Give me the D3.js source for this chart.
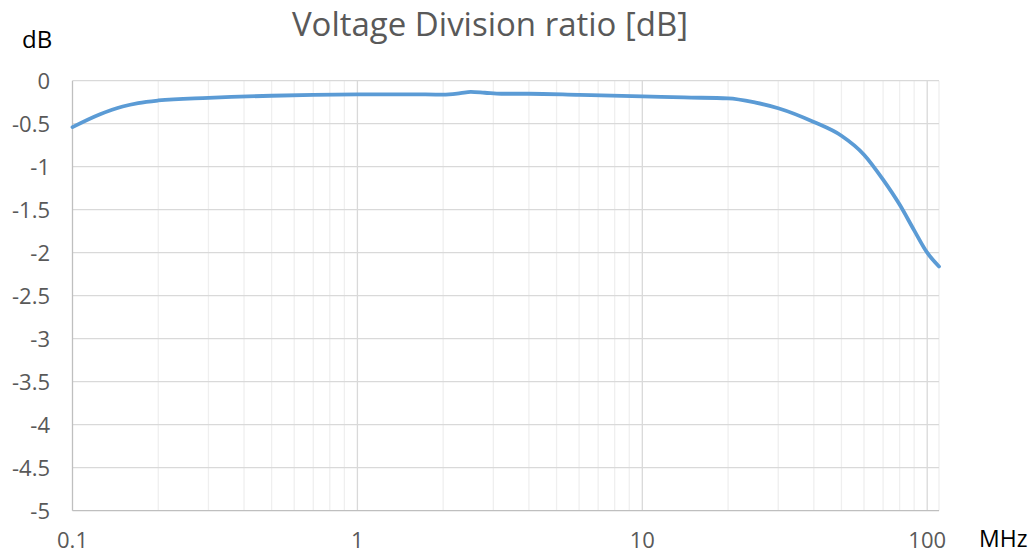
<!DOCTYPE html>
<html><head><meta charset="utf-8">
<script src="https://cdn.jsdelivr.net/npm/d3@7"></script>
<style>body{margin:0;background:#fff}svg{display:block}</style>
</head><body>
<svg id="c" width="1035" height="555"></svg>
<script>
const freqMHz = [0.1, 0.125, 0.15, 0.17, 0.2, 0.3, 0.5, 0.7, 1, 1.5, 2, 2.3, 2.5, 2.8, 3.2, 4, 6, 10, 14, 20, 25, 30, 40, 50, 60, 70, 80, 90, 100, 110];
const ratioDB = [-0.54, -0.39, -0.3, -0.26, -0.23, -0.2, -0.175, -0.165, -0.16, -0.158, -0.162, -0.145, -0.13, -0.14, -0.152, -0.152, -0.165, -0.182, -0.195, -0.205, -0.255, -0.32, -0.48, -0.64, -0.86, -1.15, -1.44, -1.74, -2.0, -2.16];
const xTickVals = [0.1, 1, 10, 100];
const xTickLabels = ["0.1", "1", "10", "100"];
const yTickVals = [0, -0.5, -1, -1.5, -2, -2.5, -3, -3.5, -4, -4.5, -5];
const yTickLabels = ["0", "-0.5", "-1", "-1.5", "-2", "-2.5", "-3", "-3.5", "-4", "-4.5", "-5"];

const svg = d3.select("#c");
const L = 72.5, R = 939, T = 80.7, B = 510.7;
const x = d3.scaleLog().domain([0.1, 110]).range([L, R]);
const y = d3.scaleLinear().domain([-5, 0]).range([B, T]);
const font = "'Open Sans', sans-serif";

// minor vertical grid
const minor = [];
[0.1, 1, 10].forEach(d => { for (let k = 2; k <= 9; k++) minor.push(d * k); });
minor.push(110);
svg.append("g").selectAll("line").data(minor).join("line")
  .attr("x1", d => x(d)).attr("x2", d => x(d)).attr("y1", T).attr("y2", B)
  .attr("stroke", "#efefef").attr("stroke-width", 1.3);
// major vertical grid
svg.append("g").selectAll("line").data([1, 10, 100]).join("line")
  .attr("x1", d => x(d)).attr("x2", d => x(d)).attr("y1", T).attr("y2", B)
  .attr("stroke", "#d9d9d9").attr("stroke-width", 1.3);
// horizontal grid
svg.append("g").selectAll("line").data(yTickVals.slice(0, -1)).join("line")
  .attr("x1", L).attr("x2", R).attr("y1", d => y(d)).attr("y2", d => y(d))
  .attr("stroke", "#d9d9d9").attr("stroke-width", 1.3);

// axes lines
svg.append("line").attr("x1", L).attr("x2", L).attr("y1", T).attr("y2", B).attr("stroke", "#bfbfbf").attr("stroke-width", 1.3);
svg.append("line").attr("x1", L).attr("x2", R).attr("y1", B).attr("y2", B).attr("stroke", "#bfbfbf").attr("stroke-width", 1.3);

// y tick labels
svg.append("g").selectAll("text").data(yTickVals).join("text")
  .attr("x", 50).attr("y", d => y(d)).attr("dy", "0.36em")
  .attr("text-anchor", "end").attr("font-family", font).attr("font-size", 22)
  .attr("fill", "#595959").text((d, i) => yTickLabels[i]);
// x tick labels
svg.append("g").selectAll("text").data(xTickVals).join("text")
  .attr("x", d => x(d)).attr("y", 548)
  .attr("text-anchor", "middle").attr("font-family", font).attr("font-size", 22)
  .attr("fill", "#595959").text((d, i) => xTickLabels[i]);

// line
const line = d3.line().x((d, i) => x(freqMHz[i])).y(d => y(d)).curve(d3.curveMonotoneX);
svg.append("path").datum(ratioDB).attr("d", line)
  .attr("fill", "none").attr("stroke", "#5b9bd5").attr("stroke-width", 3.8)
  .attr("stroke-linecap", "round").attr("stroke-linejoin", "round");

// title and units
svg.append("text").attr("x", 490).attr("y", 36).attr("text-anchor", "middle")
  .attr("font-family", font).attr("font-size", 33).attr("fill", "#595959")
  .text("Voltage Division ratio [dB]");
svg.append("text").attr("x", 22).attr("y", 48).attr("font-family", font)
  .attr("font-size", 24).attr("fill", "#000").text("dB");
svg.append("text").attr("x", 979).attr("y", 547).attr("font-family", font)
  .attr("font-size", 23).attr("fill", "#000").text("MHz");
</script>
</body></html>
